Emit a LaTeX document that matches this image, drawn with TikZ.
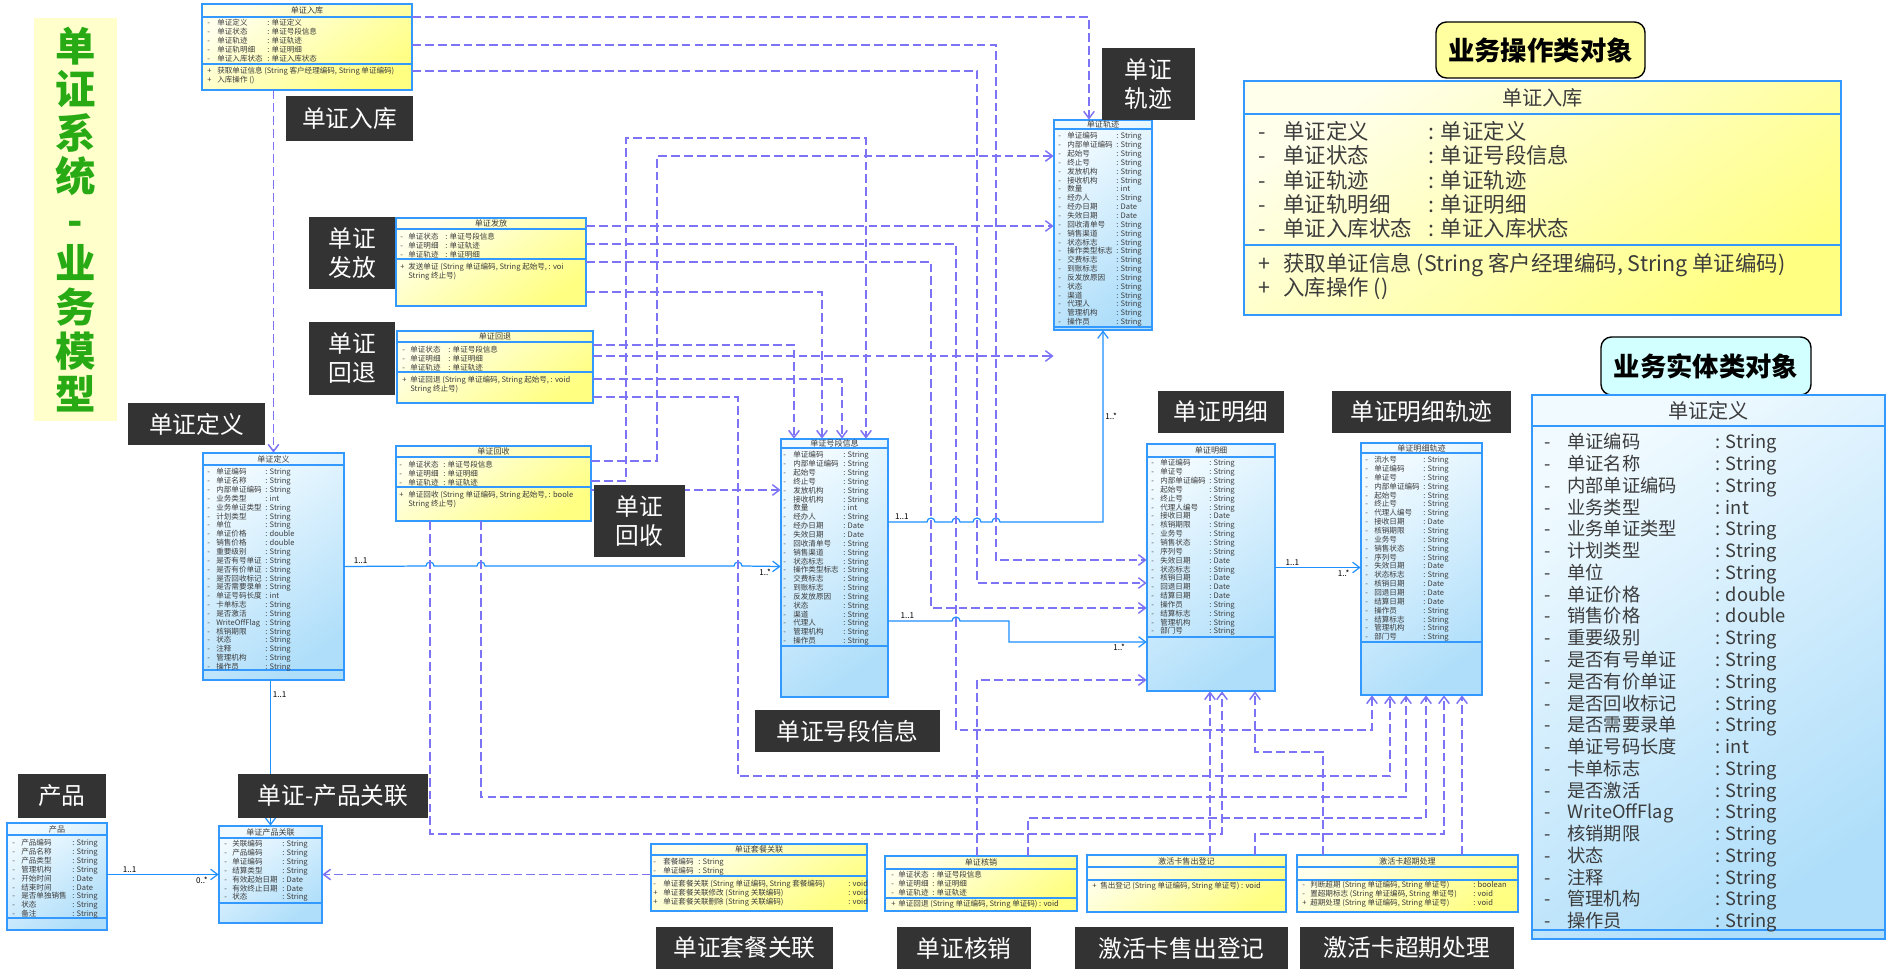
\documentclass[tikz,border=0pt]{standalone}
\usepackage{fontspec}
\setmainfont{Noto Sans CJK SC}
\usetikzlibrary{arrows.meta,positioning,calc,fit}

\definecolor{clsline}{RGB}{51,153,255}
\definecolor{clstext}{RGB}{60,60,60}
\definecolor{yelA}{RGB}{255,255,236}
\definecolor{yelB}{RGB}{255,255,130}
\definecolor{cyaA}{RGB}{240,250,255}
\definecolor{cyaB}{RGB}{175,222,250}
\definecolor{deplink}{RGB}{125,115,245}
\definecolor{asslink}{RGB}{30,144,255}
\definecolor{tagfill}{RGB}{51,51,51}
\definecolor{ttlgreen}{RGB}{40,170,20}
\definecolor{ttlback}{RGB}{255,255,204}
\definecolor{opback}{RGB}{255,255,160}
\definecolor{entback}{RGB}{210,255,255}

\newlength{\px}\setlength{\px}{0.02cm}
\newlength{\dcol}\newlength{\ncol}
% column widths of a class body, in pixels (global: every line is its own group)
\newcommand{\cw}[2]{\global\dcol=#1\px\global\ncol=#2\px}
\newcommand{\rw}[3]{\makebox[\dcol][l]{#1}\makebox[\ncol][l]{#2}#3}
\newcommand{\mt}[2]{\makebox[\dcol][l]{#1}#2}
\newcommand{\clsfont}{\fontsize{4.3}{5.04}\selectfont}
\newcommand{\clsttlfont}{\fontsize{4.6}{5.5}\selectfont}
\newcommand{\bigAfont}{\fontsize{12.2}{13.87}\selectfont}
\newcommand{\bigBfont}{\fontsize{10.4}{12.39}\selectfont}
\newcommand{\bigttl}{\fontsize{11.5}{14}\selectfont}
\newcommand{\tagfont}{\fontsize{13.5}{16.5}\selectfont}
\newcommand{\headfont}{\bfseries\fontsize{15}{18}\selectfont}
% small hop of a line over a crossing one
\newcommand{\hop}{arc[start angle=180, end angle=360, radius=4]}

% class box: name, shading, x1, y1, x2, y2, header line, divider line, title
\newcommand{\umlcls}[9]{%
  \shade[#2] (#3,#4) rectangle (#5,#6);
  \draw[clsedge] (#3,#4) rectangle (#5,#6) (#3,#7) -- (#5,#7) (#3,#8) -- (#5,#8);
  \node[fit={(#3,#4)(#5,#6)}, inner sep=0pt] (#1) {};
  \node[clsttl] (#1-t) at ($(#3,#4)!0.5!(#5,#7)$) {#9};
}

\begin{document}
\begin{tikzpicture}[x=0.02cm, y=-0.02cm,
  clsedge/.style={draw=clsline, line width=0.6pt},
  ycls/.style={top color=yelA, bottom color=yelB, shading angle=35},
  ccls/.style={top color=cyaA, bottom color=cyaB, shading angle=35},
  clsttl/.style={font=\clsttlfont, text=clstext, inner sep=0pt},
  clstxt/.style={font=\clsfont, text=clstext, inner sep=0pt, anchor=north west, align=left},
  tag/.style={fill=tagfill, text=white, font=\tagfont, inner sep=0pt, align=center},
  sz/.style 2 args={minimum width=#1*0.02cm, minimum height=#2*0.02cm},
  grp/.style={draw=black, line width=0.8pt, rounded corners=6pt, font=\headfont, inner sep=0pt},
  mult/.style={font=\fontsize{4.6}{5}\selectfont, text=black, inner sep=1pt},
  assoc/.style={draw=asslink, line width=0.7pt, -{Straight Barb[length=4pt,width=6pt]}},
  dep/.style={draw=deplink, line width=0.85pt, dash pattern=on 5pt off 2.3pt,
              -{Straight Barb[length=4pt,width=6pt]}},
]
\useasboundingbox (0,0) rectangle (1887,969);
\fill[white] (0,0) rectangle (1887,969);

%% title and group headers
\node[fill=ttlback, sz={83}{403}, inner sep=0pt, text=ttlgreen, align=center,
      font=\bfseries\fontsize{23}{24.8}\selectfont] (title) at (75.5,219.5)
  {单\\证\\系\\统\\-\\业\\务\\模\\型};
\node[grp, fill=opback, sz={209}{56}] (opgrp) at (1540.5,50) {业务操作类对象};
\node[grp, fill=entback, sz={210}{58}] (entgrp) at (1706,366) {业务实体类对象};

%% operation classes
\umlcls{rkS}{ycls}{202}{4}{412}{90}{17}{64}{单证入库}
\node[clstxt] (rkS-a) at (207,19) {\cw{10}{50}%
  \rw{-}{单证定义}{: 单证定义}\\\rw{-}{单证状态}{: 单证号段信息}\\\rw{-}{单证轨迹}{: 单证轨迹}\\
  \rw{-}{单证轨明细}{: 单证明细}\\\rw{-}{单证入库状态}{: 单证入库状态}};
\node[clstxt] (rkS-m) at (207,67) {\cw{10}{0}%
  \mt{+}{获取单证信息 (String 客户经理编码, String 单证编码)}\\\mt{+}{入库操作 ()}};

\umlcls{ff}{ycls}{396}{218}{586}{306}{229}{259}{单证发放}
\node[clstxt] (ff-a) at (400,233) {\cw{8}{37}%
  \rw{-}{单证状态}{: 单证号段信息}\\\rw{-}{单证明细}{: 单证轨迹}\\\rw{-}{单证轨迹}{: 单证明细}};
\node[clstxt] (ff-m) at (400,263) {\cw{8}{0}%
  \mt{+}{发送单证 (String 单证编码, String 起始号, : voi}\\\mt{}{String 终止号)}};

\umlcls{ht}{ycls}{397}{331}{593}{403}{342}{372}{单证回退}
\node[clstxt] (ht-a) at (402,346) {\cw{8}{38}%
  \rw{-}{单证状态}{: 单证号段信息}\\\rw{-}{单证明细}{: 单证明细}\\\rw{-}{单证轨迹}{: 单证轨迹}};
\node[clstxt] (ht-m) at (402,376) {\cw{8}{0}%
  \mt{+}{单证回退 (String 单证编码, String 起始号, : void}\\\mt{}{String 终止号)}};

\umlcls{hs}{ycls}{396}{446}{591}{521}{457}{487}{单证回收}
\node[clstxt] (hs-a) at (399,461) {\cw{9}{35}%
  \rw{-}{单证状态}{: 单证号段信息}\\\rw{-}{单证明细}{: 单证明细}\\\rw{-}{单证轨迹}{: 单证轨迹}};
\node[clstxt] (hs-m) at (399,491) {\cw{9}{0}%
  \mt{+}{单证回收 (String 单证编码, String 起始号, : boole}\\\mt{}{String 终止号)}};

\umlcls{tc}{ycls}{651}{844}{867}{911}{855}{876}{单证套餐关联}
\node[clstxt] (tc-a) at (653,858) {\cw{10}{35}%
  \rw{-}{套餐编码}{: String}\\\rw{-}{单证编码}{: String}};
\node[clstxt] (tc-m) at (653,880) {\cw{10}{185}%
  \rw{-}{单证套餐关联 (String 单证编码, String 套餐编码)}{: void}\\
  \rw{+}{单证套餐关联修改 (String 关联编码)}{: void}\\
  \rw{+}{单证套餐关联删除 (String 关联编码)}{: void}};

\umlcls{hx}{ycls}{885}{856}{1077}{911}{869}{898}{单证核销}
\node[clstxt] (hx-a) at (891,871) {\cw{7}{34}%
  \rw{-}{单证状态}{: 单证号段信息}\\\rw{-}{单证明细}{: 单证明细}\\\rw{-}{单证轨迹}{: 单证轨迹}};
\node[clstxt] (hx-m) at (891,900) {\cw{7}{0}%
  \mt{+}{单证回退 (String 单证编码, String 单证码) : void}};

\umlcls{sc}{ycls}{1087}{855}{1286}{912}{867}{880}{激活卡售出登记}
\node[clstxt] (sc-m) at (1092,882) {\cw{8}{0}%
  \mt{+}{售出登记 (String 单证编码, String 单证号) : void}};

\umlcls{cq}{ycls}{1297}{855}{1518}{912}{867}{880}{激活卡超期处理}
\node[clstxt] (cq-m) at (1302,881) {\cw{8}{163}%
  \rw{-}{判断超期 (String 单证编码, String 单证号)}{: boolean}\\
  \rw{-}{置超期标志 (String 单证编码, String 单证号)}{: void}\\
  \rw{+}{超期处理 (String 单证编码, String 单证号)}{: void}};

%% entity classes
\umlcls{defS}{ccls}{203}{453}{344}{680}{465}{670}{单证定义}
\node[clstxt] (defS-a) at (207,468) {\cw{9}{49}%
  \rw{-}{单证编码}{: String}\\\rw{-}{单证名称}{: String}\\\rw{-}{内部单证编码}{: String}\\
  \rw{-}{业务类型}{: int}\\\rw{-}{业务单证类型}{: String}\\\rw{-}{计划类型}{: String}\\
  \rw{-}{单位}{: String}\\\rw{-}{单证价格}{: double}\\\rw{-}{销售价格}{: double}\\
  \rw{-}{重要级别}{: String}\\\rw{-}{是否有号单证}{: String}\\\rw{-}{是否有价单证}{: String}\\
  \rw{-}{是否回收标记}{: String}\\\rw{-}{是否需要录单}{: String}\\\rw{-}{单证号码长度}{: int}\\
  \rw{-}{卡单标志}{: String}\\\rw{-}{是否激活}{: String}\\\rw{-}{WriteOffFlag}{: String}\\
  \rw{-}{核销期限}{: String}\\\rw{-}{状态}{: String}\\\rw{-}{注释}{: String}\\
  \rw{-}{管理机构}{: String}\\\rw{-}{操作员}{: String}};

\umlcls{hd}{ccls}{781}{439}{888}{697}{448}{646}{单证号段信息}
\node[clstxt] (hd-a) at (783,451) {\cw{10}{50}%
  \rw{-}{单证编码}{: String}\\\rw{-}{内部单证编码}{: String}\\\rw{-}{起始号}{: String}\\
  \rw{-}{终止号}{: String}\\\rw{-}{发放机构}{: String}\\\rw{-}{接收机构}{: String}\\
  \rw{-}{数量}{: int}\\\rw{-}{经办人}{: String}\\\rw{-}{经办日期}{: Date}\\
  \rw{-}{失效日期}{: Date}\\\rw{-}{回收清单号}{: String}\\\rw{-}{销售渠道}{: String}\\
  \rw{-}{状态标志}{: String}\\\rw{-}{操作类型标志}{: String}\\\rw{-}{交费标志}{: String}\\
  \rw{-}{到账标志}{: String}\\\rw{-}{反发放原因}{: String}\\\rw{-}{状态}{: String}\\
  \rw{-}{渠道}{: String}\\\rw{-}{代理人}{: String}\\\rw{-}{管理机构}{: String}\\
  \rw{-}{操作员}{: String}};

\umlcls{gj}{ccls}{1054}{120}{1152}{330}{129}{327}{单证轨迹}
\node[clstxt] (gj-a) at (1058,132) {\cw{9}{49}%
  \rw{-}{单证编码}{: String}\\\rw{-}{内部单证编码}{: String}\\\rw{-}{起始号}{: String}\\
  \rw{-}{终止号}{: String}\\\rw{-}{发放机构}{: String}\\\rw{-}{接收机构}{: String}\\
  \rw{-}{数量}{: int}\\\rw{-}{经办人}{: String}\\\rw{-}{经办日期}{: Date}\\
  \rw{-}{失效日期}{: Date}\\\rw{-}{回收清单号}{: String}\\\rw{-}{销售渠道}{: String}\\
  \rw{-}{状态标志}{: String}\\\rw{-}{操作类型标志}{: String}\\\rw{-}{交费标志}{: String}\\
  \rw{-}{到账标志}{: String}\\\rw{-}{反发放原因}{: String}\\\rw{-}{状态}{: String}\\
  \rw{-}{渠道}{: String}\\\rw{-}{代理人}{: String}\\\rw{-}{管理机构}{: String}\\
  \rw{-}{操作员}{: String}};

\umlcls{mx}{ccls}{1147}{444}{1275}{691}{457}{637}{单证明细}
\node[clstxt] (mx-a) at (1151,459) {\cw{9}{49}%
  \rw{-}{单证编码}{: String}\\\rw{-}{单证号}{: String}\\\rw{-}{内部单证编码}{: String}\\
  \rw{-}{起始号}{: String}\\\rw{-}{终止号}{: String}\\\rw{-}{代理人编号}{: String}\\
  \rw{-}{接收日期}{: Date}\\\rw{-}{核销期限}{: String}\\\rw{-}{业务号}{: String}\\
  \rw{-}{销售状态}{: String}\\\rw{-}{序列号}{: String}\\\rw{-}{失效日期}{: Date}\\
  \rw{-}{状态标志}{: String}\\\rw{-}{核销日期}{: Date}\\\rw{-}{回退日期}{: Date}\\
  \rw{-}{结算日期}{: Date}\\\rw{-}{操作员}{: String}\\\rw{-}{结算标志}{: String}\\
  \rw{-}{管理机构}{: String}\\\rw{-}{部门号}{: String}};

\umlcls{mxgj}{ccls}{1361}{443}{1482}{695}{453}{642}{单证明细轨迹}
\node[clstxt] (mxgj-a) at (1365,456) {\cw{9}{49}%
  \rw{-}{流水号}{: String}\\\rw{-}{单证编码}{: String}\\\rw{-}{单证号}{: String}\\
  \rw{-}{内部单证编码}{: String}\\\rw{-}{起始号}{: String}\\\rw{-}{终止号}{: String}\\
  \rw{-}{代理人编号}{: String}\\\rw{-}{接收日期}{: Date}\\\rw{-}{核销期限}{: String}\\
  \rw{-}{业务号}{: String}\\\rw{-}{销售状态}{: String}\\\rw{-}{序列号}{: String}\\
  \rw{-}{失效日期}{: Date}\\\rw{-}{状态标志}{: String}\\\rw{-}{核销日期}{: Date}\\
  \rw{-}{回退日期}{: Date}\\\rw{-}{结算日期}{: Date}\\\rw{-}{操作员}{: String}\\
  \rw{-}{结算标志}{: String}\\\rw{-}{管理机构}{: String}\\\rw{-}{部门号}{: String}};

\umlcls{cp}{ccls}{7}{823}{107}{930}{835}{918}{产品}
\node[clstxt] (cp-a) at (12,839) {\cw{9}{51}%
  \rw{-}{产品编码}{: String}\\\rw{-}{产品名称}{: String}\\\rw{-}{产品类型}{: String}\\
  \rw{-}{管理机构}{: String}\\\rw{-}{开始时间}{: Date}\\\rw{-}{结束时间}{: Date}\\
  \rw{-}{是否单独销售}{: String}\\\rw{-}{状态}{: String}\\\rw{-}{备注}{: String}};

\umlcls{cpgl}{ccls}{219}{826}{322}{923}{838}{903}{单证产品关联}
\node[clstxt] (cpgl-a) at (224,840) {\cw{8}{50}%
  \rw{-}{关联编码}{: String}\\\rw{-}{产品编码}{: String}\\\rw{-}{单证编码}{: String}\\
  \rw{-}{结算类型}{: String}\\\rw{-}{有效起始日期}{: Date}\\\rw{-}{有效终止日期}{: Date}\\
  \rw{-}{状态}{: String}};

%% big classes on the right
\umlcls{rkB}{ycls}{1244}{81}{1841}{315}{114}{245}{{\bigttl 单证入库}}
\node[clstxt, font=\bigAfont] (rkB-a) at (1258,121) {\cw{25}{145}%
  \rw{-}{单证定义}{: 单证定义}\\\rw{-}{单证状态}{: 单证号段信息}\\\rw{-}{单证轨迹}{: 单证轨迹}\\
  \rw{-}{单证轨明细}{: 单证明细}\\\rw{-}{单证入库状态}{: 单证入库状态}};
\node[clstxt, font=\bigAfont] (rkB-m) at (1258,253) {\cw{25}{0}%
  \mt{+}{获取单证信息 (String 客户经理编码, String 单证编码)}\\\mt{+}{入库操作 ()}};

\umlcls{defB}{ccls}{1532}{395}{1885}{939}{426}{930}{{\bigttl 单证定义}}
\node[clstxt, font=\bigBfont] (defB-a) at (1544,433) {\cw{23}{148}%
  \rw{-}{单证编码}{: String}\\\rw{-}{单证名称}{: String}\\\rw{-}{内部单证编码}{: String}\\
  \rw{-}{业务类型}{: int}\\\rw{-}{业务单证类型}{: String}\\\rw{-}{计划类型}{: String}\\
  \rw{-}{单位}{: String}\\\rw{-}{单证价格}{: double}\\\rw{-}{销售价格}{: double}\\
  \rw{-}{重要级别}{: String}\\\rw{-}{是否有号单证}{: String}\\\rw{-}{是否有价单证}{: String}\\
  \rw{-}{是否回收标记}{: String}\\\rw{-}{是否需要录单}{: String}\\\rw{-}{单证号码长度}{: int}\\
  \rw{-}{卡单标志}{: String}\\\rw{-}{是否激活}{: String}\\\rw{-}{WriteOffFlag}{: String}\\
  \rw{-}{核销期限}{: String}\\\rw{-}{状态}{: String}\\\rw{-}{注释}{: String}\\
  \rw{-}{管理机构}{: String}\\\rw{-}{操作员}{: String}};

%% associations
\draw[assoc] (defS.east) -- node[mult, pos=0.2, above] {1..1} (426,566) \hop -- (477,566) \hop
  -- (734,566) \hop -- node[mult, pos=0.6, below] {1..*} (defS.east -| hd.west);
\draw[assoc] (hd.east |- 0,522) -- node[mult, pos=0.35, above] {1..1} (927,522) \hop -- (952,522) \hop
  -- (973,522) \hop -- (992,522) \hop -- (gj.south |- 0,522) -- node[mult, pos=0.55, right] {1..*} (gj.south);
\draw[assoc] (hd.east |- 0,621) -- node[mult, pos=0.3, above] {1..1} (952,621) \hop -- (1009,621)
  |- node[mult, pos=0.9, below] {1..*} (mx.west |- 0,642);
\draw[assoc] (mx.east) -- node[mult, pos=0.2, above] {1..1} node[mult, pos=0.8, below] {1..*} (mx.east -| mxgj.west);
\draw[assoc] (cpgl.north |- defS.south) -- node[mult, pos=0.1, right] {1..1} (cpgl.north);
\draw[assoc] (cpgl.west -| cp.east) -- node[mult, pos=0.2, above] {1..1} node[mult, pos=0.85, below] {0..*} (cpgl.west);

%% dependencies from 单证入库
\draw[dep] (rkS.south -| defS.north) -- (defS.north);
\draw[dep] (rkS.east |- 0,17) -| (gj.north -| 1089,0);
\draw[dep] (rkS.east |- 0,45) -| (996,560) -- (mx.west |- 0,560);
\draw[dep] (rkS.east |- 0,71) -| (977,583) -- (mx.west |- 0,583);
%% from 单证发放
\draw[dep] (ff.east |- 0,226) -- (gj.west |- 0,226);
\draw[dep] (ff.east |- 0,244) -| (956,730) -| (mxgj.south -| 1372,0);
\draw[dep] (ff.east |- 0,262) -| (931,608) -- (mx.west |- 0,608);
\draw[dep] (ff.east |- 0,292) -| (hd.north -| 822,0);
%% from 单证回退
\draw[dep] (ht.east |- 0,345) -| (hd.north -| 794,0);
\draw[dep] (ht.east |- 0,356) -- (gj.west |- 0,356);
\draw[dep] (ht.east |- 0,379) -| (hd.north -| 842,0);
\draw[dep] (ht.east |- 0,397) -| (738,776) -| (mxgj.south -| 1390,0);
%% from 单证回收
\draw[dep] (hs.east |- 0,461) -| (657,156) -- (gj.west |- 0,156);
\draw[dep] (hs.east |- 0,481) -| (626,138) -| (hd.north -| 866,0);
\draw[dep] (hs.east |- 0,490) -- (hd.west |- 0,490);
\draw[dep] (hs.south -| 430,0) |- (1222,834) -- (mx.south -| 1222,0);
\draw[dep] (hs.south -| 481,0) |- (1406,797) -- (mxgj.south -| 1406,0);
%% from the lower operation classes
\draw[dep] (hx.north -| 977,0) |- (mx.west |- 0,680);
\draw[dep] (hx.north -| 1028,0) |- (1426,818) -- (mxgj.south -| 1426,0);
\draw[dep] (sc.north -| 1210,0) -- (mx.south -| 1210,0);
\draw[dep] (sc.north -| 1255,0) |- (1444,834) -- (mxgj.south -| 1444,0);
\draw[dep] (cq.north -| 1323,0) |- (1255,752) -- (mx.south -| 1255,0);
\draw[dep] (cq.north -| 1462,0) -- (mxgj.south -| 1462,0);
\draw[dep] (tc.west |- cpgl.east) -- (cpgl.east);

%% tags
\node[tag, sz={127}{45}] (tRk) at (349.5,118.5) {单证入库};
\node[tag, sz={93}{72}] (tGj) at (1148.5,84) {单证\\轨迹};
\node[tag, sz={86}{72}] (tFf) at (352,253) {单证\\发放};
\node[tag, sz={86}{73}] (tHt) at (352,358.5) {单证\\回退};
\node[tag, sz={137}{42}] (tDy) at (196.5,424) {单证定义};
\node[tag, sz={91}{72}] (tHs) at (639.5,521) {单证\\回收};
\node[tag, sz={126}{42}] (tMx) at (1221,412) {单证明细};
\node[tag, sz={179}{42}] (tMxgj) at (1421.5,412) {单证明细轨迹};
\node[tag, sz={185}{42}] (tHd) at (847.5,731) {单证号段信息};
\node[tag, sz={88}{44}] (tCp) at (62,796) {产品};
\node[tag, sz={190}{44}] (tCpgl) at (333,796) {单证-产品关联};
\node[tag, sz={177}{42}] (tTc) at (744.5,948) {单证套餐关联};
\node[tag, sz={134}{42}] (tHx) at (964,948) {单证核销};
\node[tag, sz={213}{42}] (tSc) at (1181.5,948) {激活卡售出登记};
\node[tag, sz={214}{42}] (tCq) at (1407,948) {激活卡超期处理};
\end{tikzpicture}
\end{document}
